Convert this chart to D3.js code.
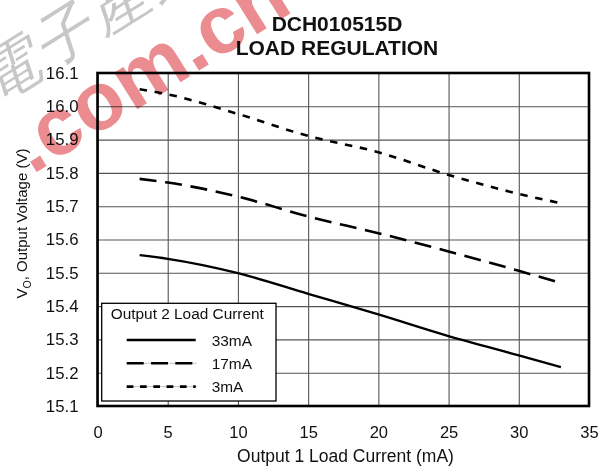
<!DOCTYPE html>
<html>
<head>
<meta charset="utf-8">
<script src="https://cdn.jsdelivr.net/npm/d3@7"></script>
<style>
  body { margin: 0; background: #fff; }
  svg { display: block; }
  text { font-family: "Liberation Sans", Arial, Helvetica, sans-serif; }
</style>
</head>
<body>
<svg id="chart" width="610" height="473"></svg>
<script>
// Output 1 load current (mA) at which the output voltage was measured
const loadCurrent = [3, 5, 10, 15, 20, 25, 30, 33];
// Output voltage (V) for each Output 2 load current
const vout33mA = [15.553, 15.542, 15.499, 15.437, 15.375, 15.31, 15.252, 15.217];
const vout17mA = [15.782, 15.771, 15.729, 15.669, 15.619, 15.564, 15.506, 15.469];
const vout3mA  = [16.051, 16.036, 15.977, 15.911, 15.862, 15.794, 15.737, 15.709];
const seriesNames = ["33mA", "17mA", "3mA"];
const xTicks = [0, 5, 10, 15, 20, 25, 30, 35];
const yTicks = [15.1, 15.2, 15.3, 15.4, 15.5, 15.6, 15.7, 15.8, 15.9, 16.0, 16.1];
const titleLines = ["DCH010515D", "LOAD REGULATION"];

const svg = d3.select("#chart");
const plot = { left: 97.5, right: 589, top: 73, bottom: 406 };
const W = plot.right - plot.left, H = plot.bottom - plot.top;

const x = d3.scaleLinear().domain([0, 35]).range([plot.left, plot.right]);
const y = d3.scaleLinear().domain([15.1, 16.1]).range([plot.bottom, plot.top]);

// grid
svg.append("g")
  .attr("transform", `translate(0,${plot.bottom})`)
  .call(d3.axisBottom(x).tickValues(xTicks).tickSize(-H).tickFormat(""))
  .call(g => g.select(".domain").remove())
  .call(g => g.selectAll("line").attr("stroke", "#555").attr("stroke-width", 1.1));
svg.append("g")
  .attr("transform", `translate(${plot.left},0)`)
  .call(d3.axisLeft(y).tickValues(yTicks).tickSize(-W).tickFormat(""))
  .call(g => g.select(".domain").remove())
  .call(g => g.selectAll("line").attr("stroke", "#555").attr("stroke-width", 1.1));

// tick labels
svg.append("g")
  .attr("transform", `translate(0,${plot.bottom})`)
  .call(d3.axisBottom(x).tickValues(xTicks).tickSize(0).tickPadding(20).tickFormat(d3.format("d")))
  .call(g => g.select(".domain").remove())
  .call(g => g.selectAll("text").attr("font-size", 16.5).attr("fill", "#111")
    .attr("font-family", "'Liberation Sans', Arial, sans-serif"));
svg.append("g")
  .attr("transform", `translate(${plot.left},0)`)
  .call(d3.axisLeft(y).tickValues(yTicks).tickSize(0).tickPadding(19).tickFormat(d3.format(".1f")))
  .call(g => g.select(".domain").remove())
  .call(g => g.selectAll("text").attr("font-size", 16.8).attr("fill", "#111")
    .attr("font-family", "'Liberation Sans', Arial, sans-serif"));

// curves
const series = [
  { name: seriesNames[0], values: vout33mA, dash: null, width: 2.4 },
  { name: seriesNames[1], values: vout17mA, dash: "17,8.7", width: 2.6 },
  { name: seriesNames[2], values: vout3mA, dash: "7.5,7.7", width: 2.6 }
];
const line = d3.line()
  .x((d, i) => x(loadCurrent[i]))
  .y(d => y(d))
  .curve(d3.curveMonotoneX);
svg.append("g").selectAll("path").data(series).join("path")
  .attr("d", d => line(d.values))
  .attr("fill", "none")
  .attr("stroke", "#000")
  .attr("stroke-width", d => d.width)
  .attr("stroke-dasharray", d => d.dash);

// frame
svg.append("rect")
  .attr("x", plot.left).attr("y", plot.top).attr("width", W).attr("height", H)
  .attr("fill", "none").attr("stroke", "#000").attr("stroke-width", 2.6);

// legend
const lg = svg.append("g").attr("transform", "translate(101.7,303.3)");
lg.append("rect").attr("width", 174.3).attr("height", 97.7)
  .attr("fill", "#fff").attr("stroke", "#000").attr("stroke-width", 1.3);
lg.append("text").attr("x", 9).attr("y", 16).attr("font-size", 15.4).attr("fill", "#111")
  .text("Output 2 Load Current");
const legendDash = [null, "17,7.3", "6.7,6.6"];
series.forEach((s, i) => {
  const yy = 36.7 + i * 23.3;
  if (legendDash[i]) {
    lg.append("line").attr("x1", 25).attr("x2", 95).attr("y1", yy).attr("y2", yy)
      .attr("stroke", "#999").attr("stroke-width", 0.6);
  }
  lg.append("line").attr("x1", 25).attr("x2", 94).attr("y1", yy).attr("y2", yy)
    .attr("stroke", "#000").attr("stroke-width", s.width).attr("stroke-dasharray", legendDash[i]);
  lg.append("text").attr("x", 110).attr("y", yy + 5.6).attr("font-size", 15.4).attr("fill", "#111")
    .text(s.name);
});

// titles
svg.append("g").selectAll("text").data(titleLines).join("text")
  .attr("x", 337).attr("y", (d, i) => 31 + i * 23.5)
  .attr("text-anchor", "middle").attr("font-size", 21).attr("font-weight", "bold").attr("fill", "#111")
  .text(d => d);

// axis titles
svg.append("text").attr("x", 345.5).attr("y", 461.5).attr("text-anchor", "middle")
  .attr("font-size", 17.5).attr("fill", "#111").text("Output 1 Load Current (mA)");
const yl = svg.append("text").attr("transform", "translate(27,223.5) rotate(-90)")
  .attr("text-anchor", "middle").attr("font-size", 15).attr("fill", "#111");
yl.append("tspan").text("V");
yl.append("tspan").attr("font-size", 10.5).attr("dy", 4).text("O");
yl.append("tspan").attr("dy", -4).text(", Output Voltage (V)");

// site watermark
const wm = svg.append("g").style("mix-blend-mode", "multiply");
wm.append("text").attr("transform", "translate(32,175) rotate(-32)")
  .attr("font-size", 82).attr("font-weight", "bold").attr("fill", "rgb(226,92,98)").attr("opacity", 0.7)
  .text(".com.cn");
wm.append("text").attr("transform", "translate(-6,104) rotate(-32)")
  .attr("font-size", 60).attr("font-style", "italic").attr("fill", "#9a9a9a").attr("opacity", 0.55)
  .attr("letter-spacing", 4)
  .attr("font-family", "'Noto Sans CJK SC', sans-serif")
  .text("電子產業");
</script>
</body>
</html>
